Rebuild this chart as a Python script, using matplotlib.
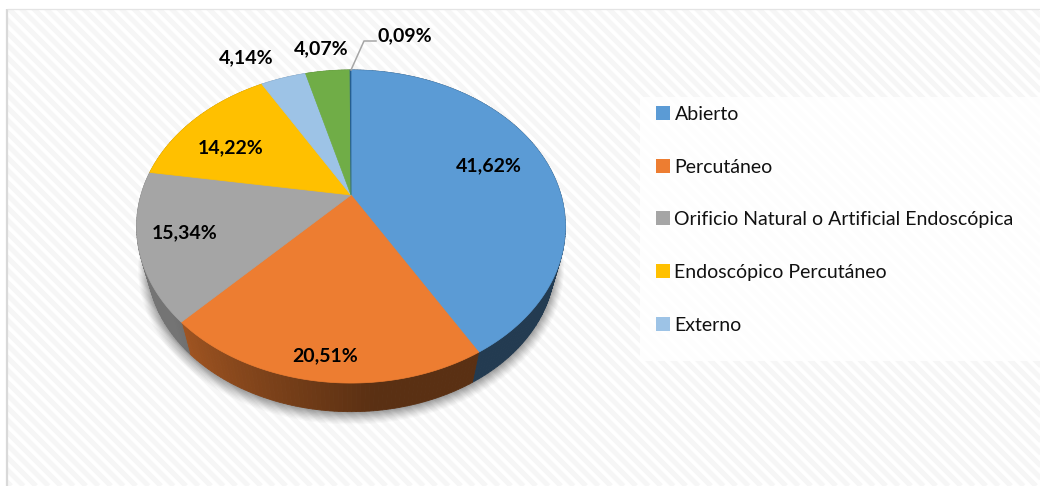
import numpy as np
import matplotlib
matplotlib.use("Agg")
import matplotlib.pyplot as plt
from matplotlib.collections import LineCollection
from matplotlib.patches import Patch, Polygon, Rectangle

# ---- data ----
legend_labels = ["Abierto", "Percutáneo", "Orificio Natural o Artificial Endoscópica",
                 "Endoscópico Percutáneo", "Externo"]
values = [41.62, 20.51, 15.34, 14.22, 4.14, 4.07, 0.09]
value_labels = ["41,62%", "20,51%", "15,34%", "14,22%", "4,14%", "4,07%", "0,09%"]
colors = ["#5B9BD5", "#ED7D31", "#A5A5A5", "#FFC000", "#9DC3E6", "#70AD47", "#255E91"]

# ---- layout (pixels) ----
label_xy = [(489, 166), (325, 356), (185, 233), (231, 148), (246, 58), (321, 49), (405, 36)]
CX, CY, RX, RY, PERSP = 351, 195, 210, 150.2, 0.2013
SIDE_SCALE, SIDE_DROP = 0.95, 38
FONT = "Lato"


def project(theta_deg, scale=1.0, drop=0.0):
    t = np.radians(theta_deg)
    u, v = np.sin(t), np.cos(t)
    w = 1 + PERSP * v
    return np.column_stack((CX + scale * RX * u / w, CY + drop - scale * RY * v / w))


fig = plt.figure(figsize=(10.4, 4.86), dpi=100, facecolor="white")
ax = fig.add_axes([0, 0, 1, 1])
ax.set_xlim(0, 1040)
ax.set_ylim(486, 0)
ax.axis("off")

# background stripes
bg = Rectangle((8, 10), 1032, 476, fc="white", ec="none", zorder=0)
ax.add_patch(bg)
offsets = np.arange(-500, 1100, 12.5)
segs = [[(o, 0), (o + 486, 486)] for o in offsets]
stripes = LineCollection(segs, colors="#f6f6f6", linewidths=3.6, zorder=0.5)
ax.add_collection(stripes)
stripes.set_clip_path(bg)
ax.plot([7, 7], [9, 486], color="#d9d9d9", lw=1.6, zorder=1, solid_capstyle="butt")
ax.plot([7, 1040], [9, 9], color="#e4e4e4", lw=0.9, zorder=1, solid_capstyle="butt")
ax.add_patch(Rectangle((640, 97), 400, 264, fc="white", ec="none", alpha=0.85, zorder=1))

# angles of each slice
edges = 360 * np.cumsum([0] + values) / sum(values)

# soft shadow under the pie
rim = np.linspace(0, 360, 361)
for grow, alpha in zip(np.linspace(9, 0, 10), np.linspace(0.03, 0.10, 10)):
    pts = project(rim, SIDE_SCALE + grow / RX, SIDE_DROP + 1 + grow * 0.4)
    ax.add_patch(Polygon(pts, closed=True, fc="#404040", ec="none", alpha=alpha, zorder=2))

# extruded side, shaded by angle
for start, end, color in zip(edges[:-1], edges[1:], colors):
    rgb = np.array(matplotlib.colors.to_rgb(color))
    steps = np.arange(start, end + 1, 1.0)
    steps = np.append(steps[steps < end], end)
    for a, b in zip(steps[:-1], steps[1:]):
        shade = np.interp((a + b) / 2, [0, 175, 228, 360], [0.38, 0.38, 0.70, 0.70])
        top = project(np.array([a, b]))
        low = project(np.array([b, a]), SIDE_SCALE, SIDE_DROP)
        c = rgb * shade
        ax.add_patch(Polygon(np.vstack((top, low)), closed=True, fc=c, ec=c, lw=0.6, zorder=3))

# top faces
for start, end, color in zip(edges[:-1], edges[1:], colors):
    arc = project(np.linspace(start, end, max(int(end - start) * 2, 2)))
    pts = np.vstack(([CX, CY], arc))
    ax.add_patch(Polygon(pts, closed=True, fc=color, ec=color, lw=0.5, zorder=4))

# leader line for the smallest slice
ax.plot([351, 364, 376], [70, 41, 41], color="#a6a6a6", lw=1.1, zorder=5)

# value labels
for (x, y), text in zip(label_xy, value_labels):
    ax.text(x, y, text, ha="center", va="center", family=FONT, weight="bold",
            fontsize=14, color="black", zorder=6)

# legend
handles = [Patch(fc=c, ec="none") for c in colors[:5]]
ax.legend(handles, legend_labels, loc="upper left", bbox_to_anchor=(650, 100),
          bbox_transform=ax.transData, frameon=False, prop={"family": FONT, "size": 14},
          handlelength=0.72, handleheight=0.72, handletextpad=0.24, labelspacing=1.835,
          borderpad=0.3, borderaxespad=0, labelcolor="#111111")

fig.savefig("out.png", dpi=100, facecolor="white")
